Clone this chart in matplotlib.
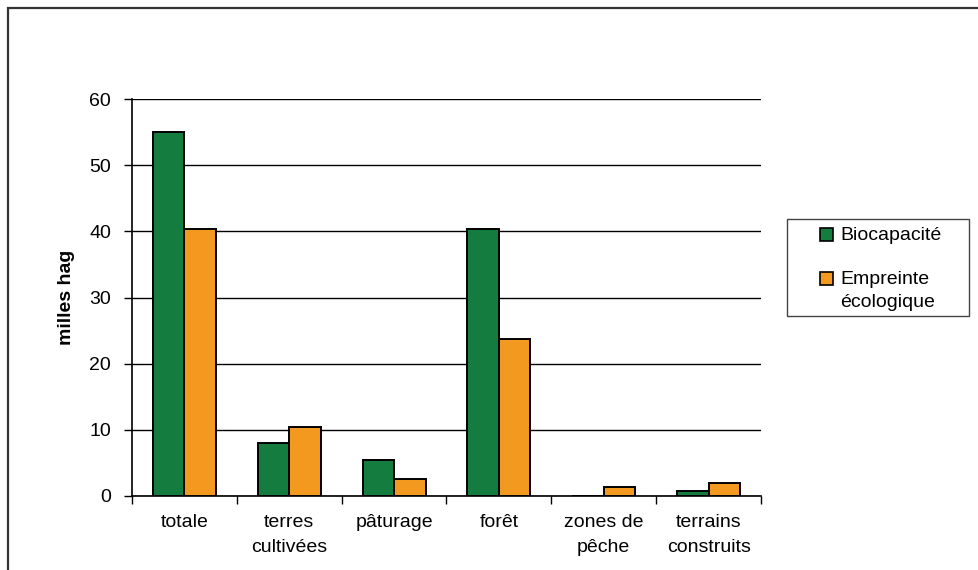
import matplotlib
matplotlib.use("Agg")
import matplotlib.pyplot as plt
import numpy as np
from matplotlib.patches import Rectangle

categories = ["totale", "terres\ncultivées", "pâturage", "forêt", "zones de\npêche", "terrains\nconstruits"]
biocapacite = [55.0, 8.0, 5.5, 40.3, 0.0, 0.8]
empreinte = [40.4, 10.5, 2.5, 23.8, 1.4, 1.9]
series_labels = ["Biocapacité", "Empreinte\nécologique"]
yticks = [0, 10, 20, 30, 40, 50, 60]

green = "#157C3F"
orange = "#F4991F"

plt.rcParams['font.family'] = ['Liberation Sans', 'DejaVu Sans']
W, H = 979, 570
fig = plt.figure(figsize=(W / 100, H / 100), dpi=100)
ax = fig.add_axes([132 / W, 1 - 496 / H, (761 - 132) / W, (496 - 99) / H])

x = np.arange(len(categories))
bw = 0.3
b1 = ax.bar(x - bw / 2, biocapacite, bw, color=green, edgecolor="black", linewidth=1.4, label=series_labels[0], zorder=3)
b2 = ax.bar(x + bw / 2, empreinte, bw, color=orange, edgecolor="black", linewidth=1.4, label=series_labels[1], zorder=3)

ax.set_xlim(-0.5, len(categories) - 0.5)
ax.set_ylim(0, 60)
ax.set_yticks(yticks)
ax.set_yticklabels([str(v) for v in yticks], fontsize=14)
ax.yaxis.grid(True, color="black", linewidth=1.0, zorder=0)
ax.set_axisbelow(True)

ax.set_xticks(np.arange(-0.5, len(categories), 1.0))
ax.set_xticklabels([])
ax.set_xticks(x, minor=True)
ax.set_xticklabels(categories, minor=True, fontsize=14, linespacing=1.6)
ax.tick_params(axis="x", which="minor", length=0, pad=13)
ax.tick_params(axis="x", which="major", length=6, width=1, direction="out")
ax.tick_params(axis="y", length=6, width=1, direction="out", pad=9)

for s in ["top", "right"]:
    ax.spines[s].set_visible(False)
for s in ["left", "bottom"]:
    ax.spines[s].set_linewidth(1.2)
    ax.spines[s].set_color("black")

ax.set_ylabel("milles hag", fontsize=14, fontweight="bold", labelpad=10)

# legend drawn in figure pixel coordinates
def fx(px):
    return px / W

def fy(py):
    return 1 - py / H

tf = fig.transFigure
fig.add_artist(Rectangle((fx(787), fy(316)), fx(969) - fx(787), fy(219) - fy(316), transform=tf,
                         fill=False, edgecolor="#444444", linewidth=1.0))
legend_colors = [green, orange]
legend_y = [234, 278]
for lab, col, yy in zip(series_labels, legend_colors, legend_y):
    fig.add_artist(Rectangle((fx(820), fy(yy + 6.5)), fx(833) - fx(820), fy(yy - 6.5) - fy(yy + 6.5),
                             transform=tf, facecolor=col, edgecolor="black", linewidth=1.2))
    fig.text(fx(840), fy(yy - 7), lab, transform=tf, fontsize=14, ha="left", va="top",
             linespacing=1.5)

border = Rectangle((8 / W, -0.2), 1.2, 1.2 - 8 / H, transform=fig.transFigure,
                   fill=False, edgecolor="#333333", linewidth=1.6, clip_on=False)
fig.patches.append(border)

fig.savefig("out.png", dpi=100)
